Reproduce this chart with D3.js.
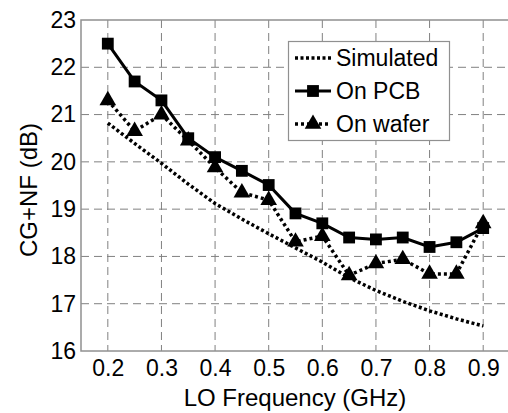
<!DOCTYPE html>
<html><head><meta charset="utf-8">
<script src="https://cdn.jsdelivr.net/npm/d3@7"></script>
<style>body{margin:0;background:#fff}svg{display:block}text{font-family:Arial,"Liberation Sans",sans-serif;fill:#000}</style>
</head><body>
<script>
const freq = [0.2,0.25,0.3,0.35,0.4,0.45,0.5,0.55,0.6,0.65,0.7,0.75,0.8,0.85,0.9];
const simulated = [20.82,20.39,19.97,19.53,19.12,18.79,18.48,18.18,17.88,17.55,17.28,17.05,16.85,16.68,16.53];
const onPCB = [22.5,21.7,21.3,20.5,20.1,19.81,19.51,18.91,18.7,18.4,18.36,18.4,18.2,18.3,18.6];
const onWafer = [21.3,20.65,21.0,20.45,19.88,19.35,19.19,18.31,18.43,17.6,17.85,17.94,17.63,17.63,18.7];
const xTicks = [0.2,0.3,0.4,0.5,0.6,0.7,0.8,0.9];
const yTicks = [16,17,18,19,20,21,22,23];
const legendLabels = ["Simulated","On PCB","On wafer"];

const W=508,H=413;
const svg=d3.select("body").append("svg").attr("width",W).attr("height",H);
const x=d3.scaleLinear().domain([0.15,0.95]).range([81,510]);
const y=d3.scaleLinear().domain([16,23]).range([351,20]);
const fs=23;

// grid
svg.append("g").selectAll("line").data(xTicks).join("line")
 .attr("x1",d=>x(d)).attr("x2",d=>x(d)).attr("y1",y(23)).attr("y2",y(16))
 .attr("stroke","#808080").attr("stroke-width",1).attr("stroke-dasharray","8,5");
svg.append("g").selectAll("line").data(yTicks.filter(d=>d>16&&d<23)).join("line")
 .attr("x1",x(0.15)).attr("x2",x(0.95)).attr("y1",d=>y(d)).attr("y2",d=>y(d))
 .attr("stroke","#808080").attr("stroke-width",1).attr("stroke-dasharray","8,5");
// frame
svg.append("rect").attr("x",x(0.15)).attr("y",y(23)).attr("width",x(0.95)-x(0.15)).attr("height",y(16)-y(23))
 .attr("fill","none").attr("stroke","#909090").attr("stroke-width",1.5);

// axes labels
const xa=d3.axisBottom(x).tickValues(xTicks).tickSize(0).tickPadding(9).tickFormat(d3.format(".1f"));
const gx=svg.append("g").attr("transform",`translate(0,${y(16)})`).call(xa);
gx.select(".domain").remove();
gx.selectAll("text").attr("font-size",fs).attr("fill","#000");
const ya=d3.axisLeft(y).tickValues(yTicks).tickSize(0).tickPadding(5).tickFormat(d3.format("d"));
const gy=svg.append("g").attr("transform",`translate(${x(0.15)},0)`).call(ya);
gy.select(".domain").remove();
gy.selectAll("text").attr("font-size",fs).attr("fill","#000");

svg.append("text").attr("x",295).attr("y",406).attr("text-anchor","middle").attr("font-size",fs+1).text("LO Frequency (GHz)");
svg.append("text").attr("transform","translate(37,190) rotate(-90)").attr("text-anchor","middle").attr("font-size",fs+1).text("CG+NF (dB)");

const line=d3.line().x((d,i)=>x(freq[i])).y(d=>y(d));
svg.append("path").datum(simulated).attr("d",line).attr("fill","none").attr("stroke","#000").attr("stroke-width",3.5).attr("stroke-dasharray","3,2.5");
svg.append("path").datum(onWafer).attr("d",line).attr("fill","none").attr("stroke","#000").attr("stroke-width",3.5).attr("stroke-dasharray","3,3");
svg.append("path").datum(onPCB).attr("d",line).attr("fill","none").attr("stroke","#000").attr("stroke-width",3);

const sq=d3.symbol().type(d3.symbolSquare).size(140);
const tri=d3.symbol().type(d3.symbolTriangle).size(120);
svg.append("g").selectAll("path").data(onPCB).join("path").attr("d",sq)
 .attr("transform",(d,i)=>`translate(${x(freq[i])},${y(d)})`).attr("fill","#000");
svg.append("g").selectAll("path").data(onWafer).join("path").attr("d",tri)
 .attr("transform",(d,i)=>`translate(${x(freq[i])},${y(d)})`).attr("fill","#000");

// legend
const lg=svg.append("g");
lg.append("rect").attr("x",288.5).attr("y",41.5).attr("width",161).attr("height",99).attr("fill","#fff").attr("stroke","#909090").attr("stroke-width",1.2);
const rows=[58,91,124];
legendLabels.forEach((lab,i)=>{
  const ry=rows[i];
  const l=lg.append("line").attr("x1",295).attr("x2",331).attr("y1",ry).attr("y2",ry).attr("stroke","#000");
  if(i===0) l.attr("stroke-width",3.5).attr("stroke-dasharray","3,2.5");
  if(i===1) l.attr("stroke-width",3);
  if(i===2) l.attr("stroke-width",3.5).attr("stroke-dasharray","3,3");
  if(i===1) lg.append("path").attr("d",sq).attr("transform",`translate(313,${ry})`);
  if(i===2) lg.append("path").attr("d",tri).attr("transform",`translate(313,${ry})`);
  lg.append("text").attr("x",336).attr("y",ry+8).attr("font-size",fs).text(lab);
});
</script>
</body></html>
